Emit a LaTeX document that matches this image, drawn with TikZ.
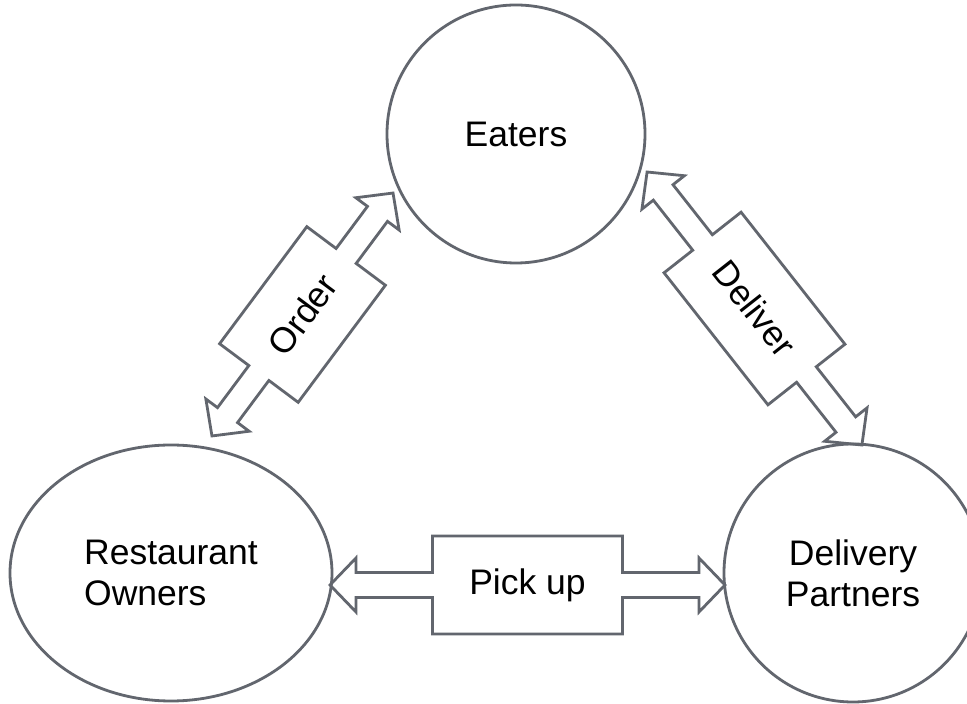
\documentclass[tikz,border=0pt]{standalone}
\usepackage{fontspec}
\setmainfont{Liberation Sans}
\usetikzlibrary{shapes.geometric}
\definecolor{rimgray}{RGB}{98,102,110}

\begin{document}
\begin{tikzpicture}[
x=1pt,y=1pt,
party/.style={
    draw=rimgray,
    line width=2.8pt,
    inner sep=0pt,
    font=\fontsize{35.5}{41}\selectfont
    },
outline/.style={
    draw=rimgray,
    line width=2.8pt,
    line join=miter,
    fill=white},
lbl/.style={
    font=\fontsize{35.5}{41}\selectfont,
    inner sep=0pt,
    transform shape},
pics/callout/.style n args={3}{code={
    \path[outline] (-#1,0) -- (-#1+26,27) -- (-#1+26,12.5) -- (-#2,12.5) -- (-#2,49) -- (#2,49)
      -- (#2,12.5) -- (#1-26,12.5) -- (#1-26,27) -- (#1,0) -- (#1-26,-27) -- (#1-26,-12.5)
      -- (#2,-12.5) -- (#2,-49) -- (-#2,-49) -- (-#2,-12.5) -- (-#1+26,-12.5) -- (-#1+26,-27) -- cycle;
    \node[lbl] (-text) at (0,0) {#3};
  }}
]
\useasboundingbox (0,0) rectangle (967,704);
\clip (0,0) rectangle (967,704);
\fill[white] (0,0) rectangle (967,704);

\pic (order) [rotate=53.3] at (302.5,389.5) {callout={151.5}{73}{Order}};
\pic (deliver) [rotate=-51.8] at (754.5,395.5) {callout={173.7}{84}{Deliver}};
\pic (pickup) at (527.5,119) {callout={197.5}{95}{Pick up}};

\node(eaters) at (516,570) [party,circle,minimum size=258pt] {Eaters};
\node(owners) at (171,131) [party,ellipse,minimum width=322pt,minimum height=256pt,align=left] {Restaurant\\Owners};
\node(partners) at (853,131) [party,circle,minimum size=258pt,align=center] {Delivery\\Partners};
\end{tikzpicture}
\end{document}
